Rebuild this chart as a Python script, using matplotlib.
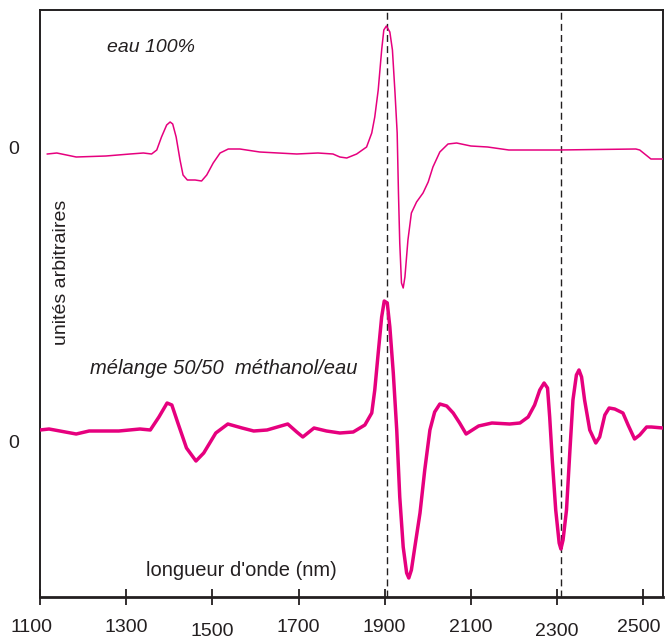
#!/usr/bin/env python3

import numpy as np
import matplotlib
matplotlib.use("Agg")
import matplotlib.pyplot as plt
import matplotlib.transforms as mtransforms

plt.rcParams['font.family'] = ['Liberation Sans', 'DejaVu Sans']

# eau 100% (2nd derivative, arbitrary units)
eau_nm = [1117, 1139, 1184, 1253, 1309, 1340, 1359, 1371, 1382, 1394, 1402, 1408,
          1416, 1425, 1432, 1442, 1460, 1475, 1487, 1502, 1518, 1537, 1564, 1610,
          1696, 1745, 1780, 1796, 1812, 1835, 1858, 1870, 1877, 1885, 1893, 1898,
          1904, 1912, 1918, 1924, 1929, 1932, 1935, 1939, 1943, 1947, 1954, 1962,
          1974, 1989, 2001, 2012, 2028, 2047, 2067, 2100, 2139, 2188, 2304, 2483,
          2492, 2518, 2548]
eau_val = [0, 1, -3, -2, 0, 1, 0, 4, 17, 29, 32, 30,
           17, -6, -21, -26, -26, -27, -21, -9, 1, 5, 5, 2,
           0, 1, 0, -3, -4, 0, 7, 21, 37, 64, 104, 124,
           128, 122, 104, 61, 21, -39, -89, -129, -134, -123, -86, -59,
           -48, -39, -28, -13, 2, 10, 11, 8, 7, 4, 4, 5,
           4, -5, -5]

# melange 50/50 methanol/eau
mel_nm = [1100, 1121, 1184, 1214, 1283, 1332, 1356, 1376, 1395, 1406, 1420, 1440,
          1462, 1480, 1508, 1536, 1569, 1596, 1627, 1675, 1696, 1710, 1736, 1765,
          1796, 1827, 1854, 1870, 1877, 1885, 1893, 1899, 1906, 1912, 1920, 1928,
          1935, 1943, 1951, 1956, 1962, 1970, 1982, 1993, 2005, 2016, 2028, 2044,
          2059, 2074, 2089, 2118, 2149, 2190, 2214, 2233, 2248, 2260, 2270, 2278,
          2283, 2289, 2297, 2305, 2309, 2314, 2322, 2330, 2337, 2345, 2351, 2357,
          2364, 2376, 2390, 2399, 2411, 2421, 2434, 2453, 2465, 2480, 2492, 2508,
          2519, 2546]
mel_val = [1, 2, -3, 0, 0, 2, 1, 14, 28, 26, 8, -17,
           -30, -22, -2, 7, 3, 0, 1, 7, -1, -6, 3, 0,
           -2, -1, 6, 18, 41, 78, 114, 130, 128, 104, 58, 1,
           -66, -116, -142, -147, -139, -116, -82, -39, 1, 19, 27, 25,
           18, 8, -3, 5, 8, 7, 8, 14, 26, 41, 48, 43,
           14, -29, -79, -112, -118, -109, -79, -19, 31, 56, 61, 54,
           31, 1, -12, -6, 16, 23, 22, 18, 6, -8, -4, 4,
           4, 3]

xticks = [1100, 1300, 1500, 1700, 1900, 2100, 2300, 2500]
marks = [1905, 2310]

pink = '#e6007e'
dark = '#231f20'

fig = plt.figure(figsize=(6.65, 6.38), dpi=100)
ax = fig.add_axes([40 / 665, 41 / 638, 623 / 665, 587 / 638])

top_off = 443
bot_off = 166

for m in marks:
    ax.axvline(m, color=dark, lw=1.0, ls=(0, (5, 3)), zorder=1)

ax.plot(eau_nm, np.array(eau_val) + top_off, color=pink, lw=1.1, zorder=3,
        solid_joinstyle='round')
ax.plot(mel_nm, np.array(mel_val) + bot_off, color=pink, lw=2.5, zorder=3,
        solid_joinstyle='round', solid_capstyle='round')

ax.set_xlim(1100, 2546)
ax.set_ylim(0, 587)
ax.set_xticks(xticks)
ax.set_xticklabels([str(t) for t in xticks])
ax.tick_params(axis='x', direction='inout', length=12, width=1.3, color=dark,
               labelsize=14, labelcolor=dark, pad=9.5)
ax.set_yticks([449, 156])
ax.set_yticklabels(['0', '0'])
ax.tick_params(axis='y', length=0, labelsize=14, labelcolor=dark, pad=15)

# hand-placed look of the original labels
shifts = {'1100': (-8, 0), '1500': (0, -4), '2300': (0, -4), '2500': (-4, 0)}
for lab in ax.get_xticklabels():
    if lab.get_text() in shifts:
        dx, dy = shifts[lab.get_text()]
        lab.set_transform(lab.get_transform() +
                          mtransforms.ScaledTranslation(dx / 100, dy / 100, fig.dpi_scale_trans))

for s in ax.spines.values():
    s.set_color(dark)
    s.set_linewidth(1.4)
ax.spines['bottom'].set_linewidth(2.0)

ax.text(1255, 549, 'eau 100%', fontsize=14, style='italic', color=dark, va='center')
ax.text(1216, 228, 'mélange 50/50  méthanol/eau', fontsize=14.5, style='italic',
        color=dark, va='center')
ax.text(1346, 26, "longueur d'onde (nm)", fontsize=14.5, color=dark, va='center')
ax.text(1151, 325, 'unités arbitraires', fontsize=14, color=dark, rotation=90,
        va='center', ha='center')

fig.savefig('out.png', dpi=100)
